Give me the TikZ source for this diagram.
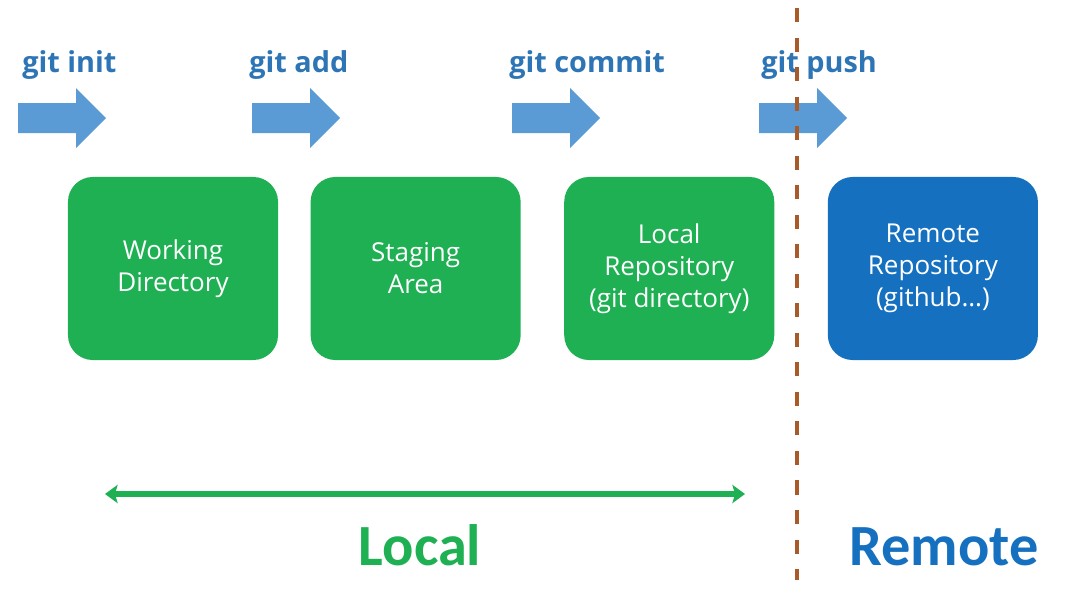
\documentclass[tikz,border=0pt]{standalone}
\usepackage{fontspec}
\setmainfont{Open Sans}
\newfontfamily\bigfont{Carlito}
\usetikzlibrary{arrows.meta,positioning}
\definecolor{boxgreen}{HTML}{1EB053}
\definecolor{boxblue}{HTML}{1570BF}
\definecolor{arrowblue}{HTML}{5B9BD5}
\definecolor{cmdblue}{HTML}{2E75B6}
\definecolor{border}{HTML}{A85A28}
\begin{document}
\begin{tikzpicture}[x=0.025cm,y=-0.025cm,
    box/.style={fill=boxgreen, rounded corners=0.62cm, inner sep=0pt,
        minimum width=5.25cm, minimum height=4.575cm, text=white,
        align=center, font=\fontsize{18.5}{22.8}\selectfont},
    cmd/.style={text=cmdblue, anchor=base west, inner sep=0pt,
        font=\fontsize{20.5}{24}\selectfont\bfseries},
    side/.style={anchor=base, inner sep=0pt, font=\bigfont\fontsize{41.5}{44}\selectfont\bfseries},
    blockarrow/.style={fill=arrowblue, draw=none}]
    \useasboundingbox (0,0) rectangle (1066,592);
    % commands and their arrows
    \foreach \x/\lx/\name/\txt in {18/22/init/git init, 252/249/add/git add,
            512/509/commit/git commit, 759/761/push/git push}{
        \fill[blockarrow] (\x,103) -- ++(58,0) -- ++(0,-15) -- ++(30,30)
            -- ++(-30,30) -- ++(0,-15) -- ++(-58,0) -- cycle;
        \node[cmd] (\name) at (\lx,72) {\txt};
    }
    % the four areas
    \node[box] (work) at (173,268.5) {Working\\Directory};
    \node[box, right=0.8cm of work] (stage) {Staging\\Area};
    \node[box, right=1.075cm of stage] (repo) {Local\\Repository\\(git directory)};
    \node[box, fill=boxblue, right=1.325cm of repo] (remote) {Remote\\Repository\\(github\ldots)};
    % border between local and remote
    \coordinate (top) at (797,8);
    \coordinate (bottom) at (797,580);
    \draw[border, line width=2.8pt, dash pattern=on 10pt off 11pt] (top) -- (bottom);
    % extent of the local side
    \coordinate (lleft) at (105,494);
    \coordinate (lright) at (745,494);
    \draw[boxgreen, line width=3.6pt, {Stealth[length=9pt,width=13pt,inset=2pt]}-{Stealth[length=9pt,width=13pt,inset=2pt]}] (lleft) -- (lright);
    \node[side, text=boxgreen] (local) at (420,565) {Local};
    \node[side, text=boxblue] (remotelbl) at (944,565) {Remote};
\end{tikzpicture}
\end{document}
